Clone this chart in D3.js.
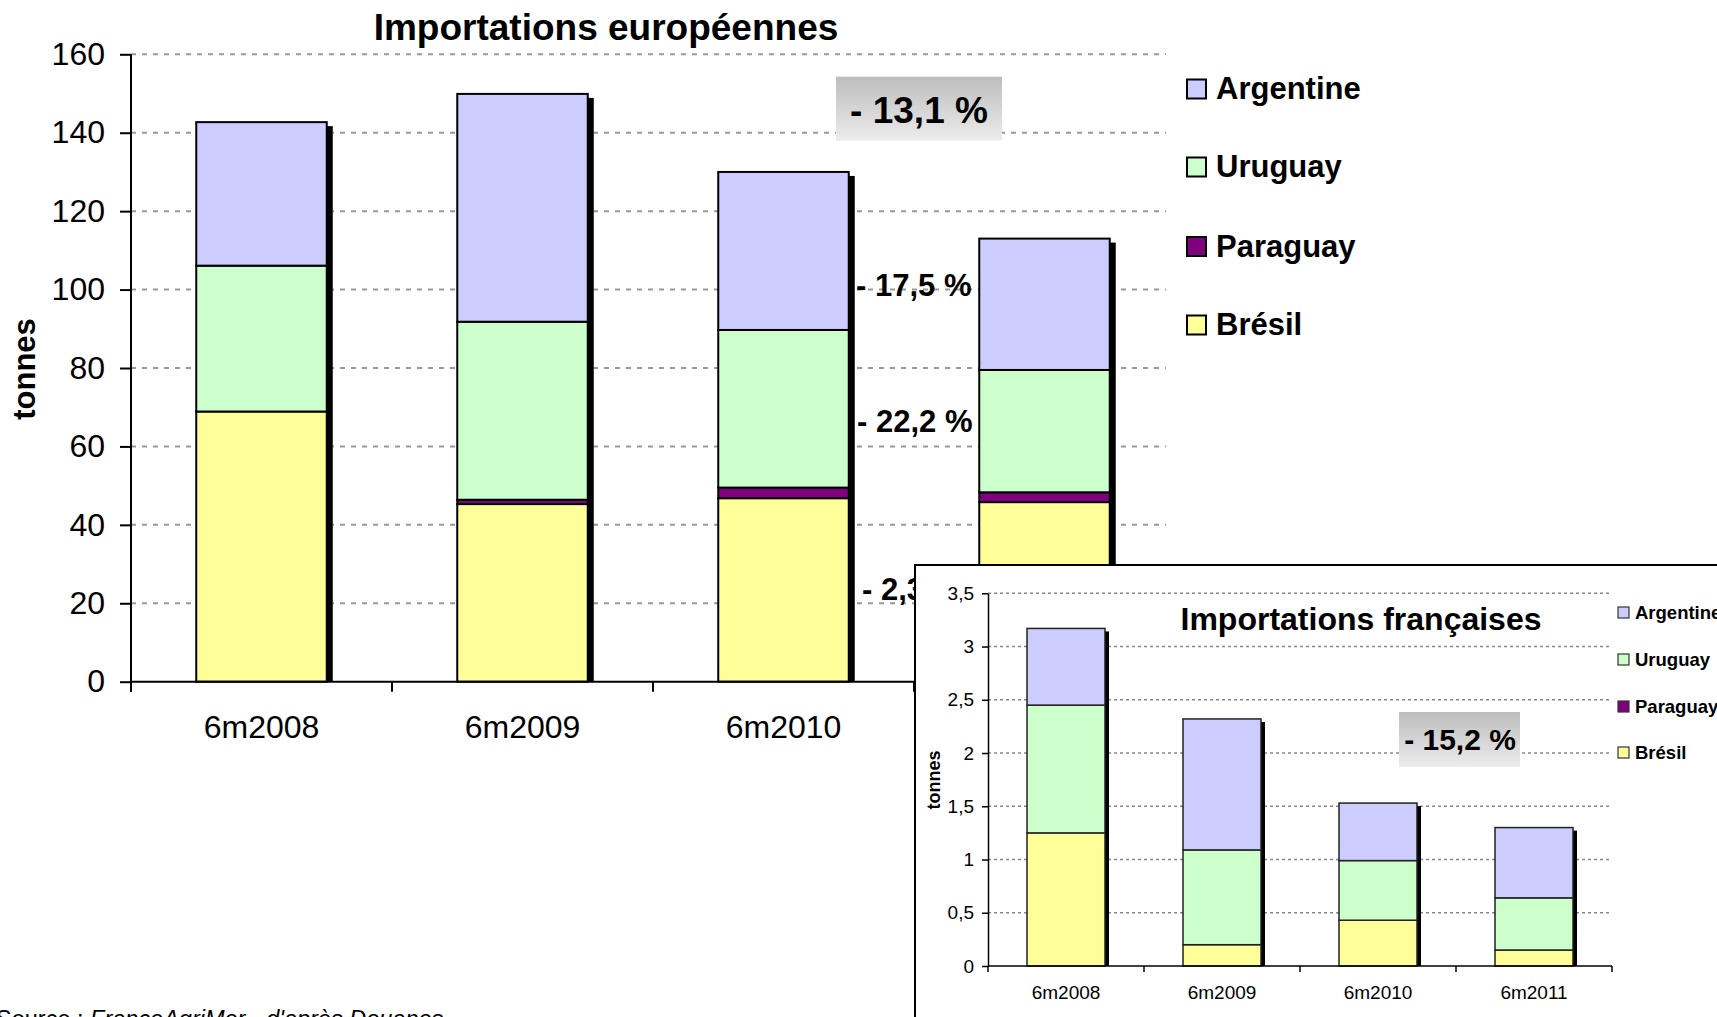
<!DOCTYPE html>
<html>
<head>
<meta charset="utf-8">
<script src="https://cdn.jsdelivr.net/npm/d3@7"></script>
<style>
  html, body { margin: 0; padding: 0; background: #fff; overflow: hidden; }
  svg { display: block; font-family: "Liberation Sans", Arial, sans-serif; }
</style>
</head>
<body>
<svg id="chart" width="1717" height="1017"></svg>
<script>
// ---------- DATA ----------
const categories = ["6m2008", "6m2009", "6m2010", "6m2011"];
const seriesKeys = ["Brésil", "Paraguay", "Uruguay", "Argentine"];
const legendOrder = ["Argentine", "Uruguay", "Paraguay", "Brésil"];

// European imports (tonnes)
const euBresil    = [68.9, 45.3, 46.8, 45.8];
const euParaguay  = [0.0, 1.1, 2.7, 2.5];
const euUruguay   = [37.2, 45.4, 40.2, 31.2];
const euArgentine = [36.6, 58.1, 40.3, 33.5];
const euTicks = [0, 20, 40, 60, 80, 100, 120, 140, 160];

// French imports (tonnes)
const frBresil    = [1.25, 0.20, 0.43, 0.15];
const frParaguay  = [0, 0, 0, 0];
const frUruguay   = [1.20, 0.89, 0.56, 0.49];
const frArgentine = [0.72, 1.23, 0.54, 0.66];
const frTicks = [0, 0.5, 1, 1.5, 2, 2.5, 3, 3.5];

const euTitle = "Importations européennes";
const frTitle = "Importations françaises";
const yLabel = "tonnes";
const euTotalChange = "- 13,1 %";
const euSeriesChanges = ["- 17,5 %", "- 22,2 %", "- 2,3 %"];
const frTotalChange = "- 15,2 %";

const colors = { "Argentine": "#ccccff", "Uruguay": "#ccffcc", "Paraguay": "#800080", "Brésil": "#ffff99" };

// ---------- HELPERS ----------
const svg = d3.select("#chart");
const fmtFr = d => String(d).replace(".", ",");

function buildTable(b, p, u, a) {
  return categories.map((c, i) => ({ cat: c, "Brésil": b[i], "Paraguay": p[i], "Uruguay": u[i], "Argentine": a[i] }));
}

const defs = svg.append("defs");
const grad = defs.append("linearGradient").attr("id", "boxGrad").attr("x1", 0).attr("y1", 0).attr("x2", 0).attr("y2", 1);
grad.append("stop").attr("offset", "0%").attr("stop-color", "#bdbdbd");
grad.append("stop").attr("offset", "100%").attr("stop-color", "#ececec");

// ---------- MAIN CHART ----------
const euTable = buildTable(euBresil, euParaguay, euUruguay, euArgentine);
const euStack = d3.stack().keys(seriesKeys)(euTable);

const x = d3.scaleBand().domain(categories).range([131, 1175]).paddingInner(0.5).paddingOuter(0.25);
const y = d3.scaleLinear().domain([0, 160]).range([681.7, 54.3]);

const main = svg.append("g");

// gridlines
main.append("g").selectAll("line").data(euTicks.filter(t => t > 0)).join("line")
  .attr("x1", 131).attr("x2", 1166)
  .attr("y1", d => y(d)).attr("y2", d => y(d))
  .attr("stroke", "#999").attr("stroke-width", 2).attr("stroke-dasharray", "5,6");

// shadows
const euTotals = euTable.map(r => seriesKeys.reduce((s, k) => s + r[k], 0));
main.append("g").selectAll("rect").data(euTable).join("rect")
  .attr("x", d => x(d.cat) + 6)
  .attr("y", (d, i) => y(euTotals[i]) + 4)
  .attr("width", x.bandwidth())
  .attr("height", (d, i) => y(0) - y(euTotals[i]) - 4)
  .attr("fill", "#000");

// stacked segments
main.append("g").selectAll("g").data(euStack).join("g")
  .attr("fill", d => colors[d.key])
  .selectAll("rect").data(d => d.filter(s => s[1] - s[0] > 0)).join("rect")
  .attr("x", d => x(d.data.cat))
  .attr("y", d => y(d[1]))
  .attr("width", x.bandwidth())
  .attr("height", d => y(d[0]) - y(d[1]))
  .attr("stroke", "#000").attr("stroke-width", 2);

// y axis
const yAxis = main.append("g").attr("transform", `translate(131,0)`)
  .call(d3.axisLeft(y).tickValues(euTicks).tickSize(11).tickPadding(15).tickSizeOuter(0));
yAxis.select(".domain").remove();
yAxis.selectAll(".tick line").attr("stroke", "#000").attr("stroke-width", 2);
yAxis.selectAll(".tick text").attr("font-size", 32).attr("fill", "#000")
  .attr("font-family", "Liberation Sans, Arial, sans-serif");
main.append("line").attr("x1", 131).attr("x2", 131).attr("y1", y(160)).attr("y2", y(0) + 10)
  .attr("stroke", "#000").attr("stroke-width", 2);

// x axis
const xAxis = main.append("g").attr("transform", `translate(0,${y(0)})`)
  .call(d3.axisBottom(x).tickSize(0).tickPadding(34).tickSizeOuter(0));
xAxis.select(".domain").remove();
xAxis.selectAll(".tick text").attr("font-size", 32).attr("fill", "#000")
  .attr("font-family", "Liberation Sans, Arial, sans-serif");
main.append("line").attr("x1", 131).attr("x2", 1175).attr("y1", y(0)).attr("y2", y(0))
  .attr("stroke", "#000").attr("stroke-width", 2);
main.append("g").selectAll("line").data(d3.range(categories.length + 1)).join("line")
  .attr("x1", i => x.range()[0] + i * x.step()).attr("x2", i => x.range()[0] + i * x.step())
  .attr("y1", y(0)).attr("y2", y(0) + 10)
  .attr("stroke", "#000").attr("stroke-width", 2);

// title
main.append("text").attr("x", 606).attr("y", 40).attr("text-anchor", "middle")
  .attr("font-size", 37).attr("font-weight", "bold").text(euTitle);

// y label
main.append("text").attr("transform", "translate(35,369) rotate(-90)").attr("text-anchor", "middle")
  .attr("font-size", 31).attr("font-weight", "bold").text(yLabel);

// -13,1 % box
main.append("rect").attr("x", 836).attr("y", y(154.3)).attr("width", 166).attr("height", y(138) - y(154.3))
  .attr("fill", "url(#boxGrad)");
main.append("text").attr("x", 919).attr("y", y(142.4)).attr("text-anchor", "middle")
  .attr("font-size", 37).attr("font-weight", "bold").text(euTotalChange);

// series change labels
const changeLevels = [98.3, 63.7, 20.8];
const changeX = [856, 857, 862];
main.append("g").selectAll("text").data(euSeriesChanges).join("text")
  .attr("x", (d, i) => changeX[i]).attr("y", (d, i) => y(changeLevels[i]))
  .attr("font-size", 31).attr("font-weight", "bold").text(d => d);

// legend
const legMain = main.append("g");
const legY = [99, 177, 256.5, 335];
legendOrder.forEach((k, i) => {
  legMain.append("rect").attr("x", 1187).attr("y", legY[i] - 19.5).attr("width", 19).attr("height", 19)
    .attr("fill", colors[k]).attr("stroke", "#000").attr("stroke-width", 2);
  legMain.append("text").attr("x", 1216).attr("y", legY[i]).attr("font-size", 31).attr("font-weight", "bold").text(k);
});

// source
const src = svg.append("text").attr("x", -4).attr("y", 1027).attr("font-size", 23.5);
src.append("tspan").text("Source : ");
src.append("tspan").attr("font-style", "italic").text("FranceAgriMer - d'après Douanes");

// ---------- INSET CHART ----------
const inset = svg.append("g");
inset.append("rect").attr("x", 915).attr("y", 565).attr("width", 900).attr("height", 600)
  .attr("fill", "#fff").attr("stroke", "#000").attr("stroke-width", 2);

const frTable = buildTable(frBresil, frParaguay, frUruguay, frArgentine);
const frStack = d3.stack().keys(seriesKeys)(frTable);
const xi = d3.scaleBand().domain(categories).range([988, 1612]).paddingInner(0.5).paddingOuter(0.25);
const yi = d3.scaleLinear().domain([0, 3.5]).range([966, 593.3]);

inset.append("g").selectAll("line").data(frTicks.filter(t => t > 0)).join("line")
  .attr("x1", 988).attr("x2", 1611)
  .attr("y1", d => yi(d)).attr("y2", d => yi(d))
  .attr("stroke", "#888").attr("stroke-width", 1.5).attr("stroke-dasharray", "3,3");

const frTotals = frTable.map(r => seriesKeys.reduce((s, k) => s + r[k], 0));
inset.append("g").selectAll("rect").data(frTable).join("rect")
  .attr("x", d => xi(d.cat) + 4)
  .attr("y", (d, i) => yi(frTotals[i]) + 3)
  .attr("width", xi.bandwidth())
  .attr("height", (d, i) => yi(0) - yi(frTotals[i]) - 3)
  .attr("fill", "#000");

inset.append("g").selectAll("g").data(frStack).join("g")
  .attr("fill", d => colors[d.key])
  .selectAll("rect").data(d => d.filter(s => s[1] - s[0] > 0)).join("rect")
  .attr("x", d => xi(d.data.cat))
  .attr("y", d => yi(d[1]))
  .attr("width", xi.bandwidth())
  .attr("height", d => yi(d[0]) - yi(d[1]))
  .attr("stroke", "#222").attr("stroke-width", 1.5);

const yiAxis = inset.append("g").attr("transform", "translate(988,0)")
  .call(d3.axisLeft(yi).tickValues(frTicks).tickFormat(fmtFr).tickSize(6).tickPadding(8).tickSizeOuter(0));
yiAxis.select(".domain").attr("stroke", "#000").attr("stroke-width", 1.5);
yiAxis.selectAll(".tick line").attr("stroke", "#000").attr("stroke-width", 1.5);
yiAxis.selectAll(".tick text").attr("font-size", 19).attr("fill", "#000")
  .attr("font-family", "Liberation Sans, Arial, sans-serif");

const xiAxis = inset.append("g").attr("transform", `translate(0,${yi(0)})`)
  .call(d3.axisBottom(xi).tickSize(0).tickPadding(20).tickSizeOuter(0));
xiAxis.select(".domain").remove();
xiAxis.selectAll(".tick text").attr("font-size", 19).attr("fill", "#000")
  .attr("font-family", "Liberation Sans, Arial, sans-serif");
inset.append("line").attr("x1", 988).attr("x2", 1612).attr("y1", yi(0)).attr("y2", yi(0))
  .attr("stroke", "#000").attr("stroke-width", 1.5);
inset.append("g").selectAll("line").data(d3.range(categories.length + 1)).join("line")
  .attr("x1", i => xi.range()[0] + i * xi.step()).attr("x2", i => xi.range()[0] + i * xi.step())
  .attr("y1", yi(0)).attr("y2", yi(0) + 6)
  .attr("stroke", "#000").attr("stroke-width", 1.5);

inset.append("text").attr("x", 1361).attr("y", 630).attr("text-anchor", "middle")
  .attr("font-size", 32).attr("font-weight", "bold").text(frTitle);

inset.append("text").attr("transform", "translate(940,780) rotate(-90)").attr("text-anchor", "middle")
  .attr("font-size", 18).attr("font-weight", "bold").text(yLabel);

inset.append("rect").attr("x", 1399).attr("y", 712).attr("width", 121).attr("height", 55)
  .attr("fill", "url(#boxGrad)");
inset.append("text").attr("x", 1460).attr("y", 750).attr("text-anchor", "middle")
  .attr("font-size", 30).attr("font-weight", "bold").text(frTotalChange);

const legInsetY = [619, 666, 713, 759];
legendOrder.forEach((k, i) => {
  inset.append("rect").attr("x", 1618).attr("y", legInsetY[i] - 12).attr("width", 11).attr("height", 11)
    .attr("fill", colors[k]).attr("stroke", "#333").attr("stroke-width", 1.2);
  inset.append("text").attr("x", 1635).attr("y", legInsetY[i]).attr("font-size", 18.5).attr("font-weight", "bold").text(k);
});
</script>
</body>
</html>
